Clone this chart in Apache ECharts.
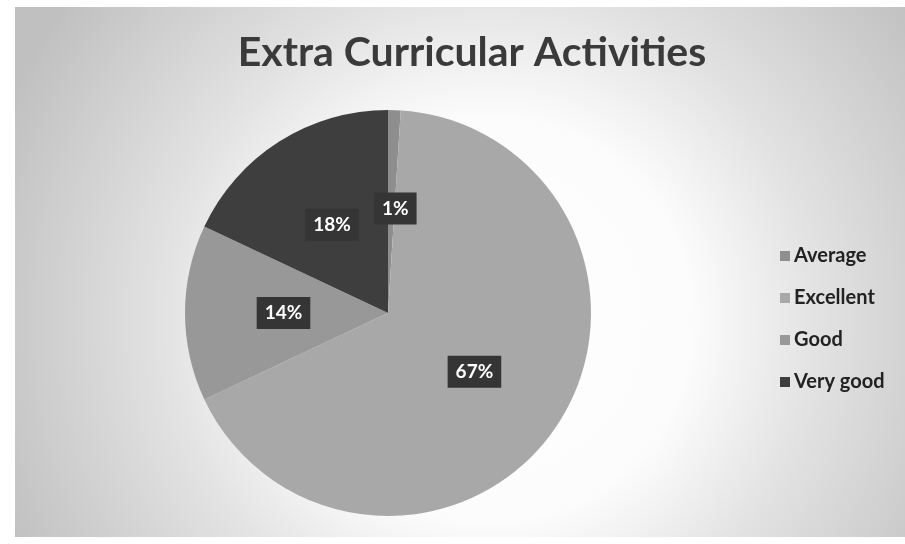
<!DOCTYPE html>
<html><head><meta charset="utf-8">
<script src="https://cdn.jsdelivr.net/npm/echarts@6/dist/echarts.min.js"></script>
<style>html,body{margin:0;padding:0;background:#fff}#c{width:905px;height:544px}</style>
</head><body><div id="c"></div>
<script>
const categories = ["Average", "Excellent", "Good", "Very good"];
const values = [1, 67, 14, 18];
const colors = ["#8e8e8e", "#a8a8a8", "#989898", "#3e3e3e"];
const titleText = "Extra Curricular Activities";

const chart = echarts.init(document.getElementById('c'));
chart.setOption({
  backgroundColor: '#ffffff',
  graphic: [{
    type: 'rect', z: -10, silent: true,
    shape: {x: 15, y: 7, width: 890, height: 530},
    style: {fill: {type: 'radial', x: 490, y: 320, r: 530, global: true,
      colorStops: [{offset: 0, color: '#ffffff'}, {offset: 0.38, color: '#fcfcfc'}, {offset: 0.62, color: '#e2e2e2'}, {offset: 1, color: '#c0c0c0'}]}}
  }],
  title: {
    text: titleText, left: 467, top: 27, textAlign: 'center',
    textStyle: {fontFamily: 'Lato', fontWeight: 'bold', fontSize: 41, color: '#3a3a3a'}
  },
  legend: {
    orient: 'vertical', left: 775, top: 241, itemWidth: 10, itemHeight: 10, itemGap: 22,
    icon: 'rect',
    textStyle: {fontFamily: 'Lato', fontWeight: 'bold', fontSize: 20, color: '#222', padding: [0,0,0,-1]},
    data: categories
  },
  series: [{
    type: 'pie', center: [388, 313], radius: 203, startAngle: 90, clockwise: true,
    animation: false,
    color: colors,
    itemStyle: {borderWidth: 0},
    label: {
      position: 'inside', formatter: '{d}%',
      fontFamily: 'Lato', fontWeight: 'bold', fontSize: 19, color: '#fff',
      backgroundColor: '#353535', padding: [7, 8, 6, 8]
    },
    labelLine: {show: false},
    data: categories.map((c, i) => ({
      name: c, value: values[i],
      label: i === 0 ? {offset: [4, 0]} : undefined
    }))
  }]
});
</script></body></html>
